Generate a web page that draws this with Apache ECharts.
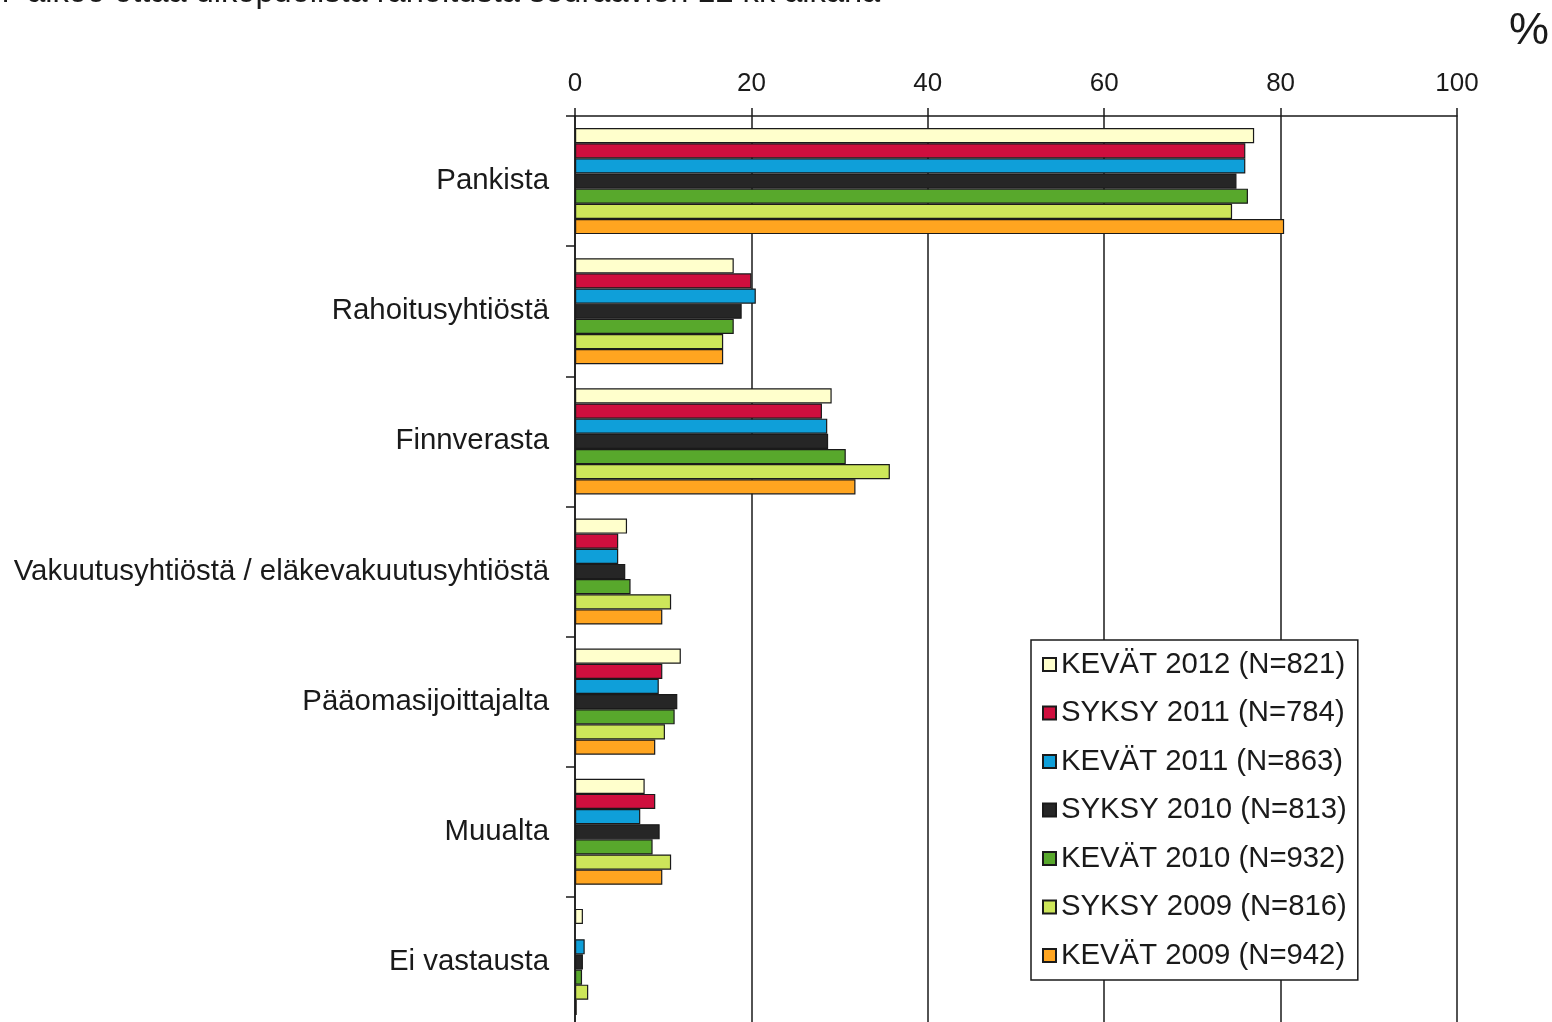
<!DOCTYPE html>
<html>
<head>
<meta charset="utf-8">
<title>Rahoituslähteet</title>
<script src="https://cdn.jsdelivr.net/npm/echarts@6/dist/echarts.min.js"></script>
<style>
  html, body { margin: 0; padding: 0; background: #fff; }
  #chart { width: 1552px; height: 1022px; }
</style>
</head>
<body>
<div id="chart"></div>
<script>
// kategoriat ylhäältä alas
const categories = [
  'Pankista',
  'Rahoitusyhtiöstä',
  'Finnverasta',
  'Vakuutusyhtiöstä / eläkevakuutusyhtiöstä',
  'Pääomasijoittajalta',
  'Muualta',
  'Ei vastausta'
];

const xTicks = [0, 20, 40, 60, 80, 100];

// prosentit, luettu kuvasta
const kevat2012 = [77.0, 18.0, 29.1, 5.9, 12.0, 7.9, 0.9];
const syksy2011 = [76.0, 20.0, 28.0, 4.9, 9.9, 9.1, null];
const kevat2011 = [76.0, 20.5, 28.6, 4.9, 9.5, 7.4, 1.1];
const syksy2010 = [75.0, 18.9, 28.7, 5.7, 11.6, 9.6, 0.9];
const kevat2010 = [76.3, 18.0, 30.7, 6.3, 11.3, 8.8, 0.8];
const syksy2009 = [74.5, 16.8, 35.7, 10.9, 10.2, 10.9, 1.5];
const kevat2009 = [80.4, 16.8, 31.8, 9.9, 9.1, 9.9, 0.2];

const seriesNames = [
  'KEVÄT 2012 (N=821)',
  'SYKSY 2011 (N=784)',
  'KEVÄT 2011 (N=863)',
  'SYKSY 2010 (N=813)',
  'KEVÄT 2010 (N=932)',
  'SYKSY 2009 (N=816)',
  'KEVÄT 2009 (N=942)'
];
const seriesData = [kevat2012, syksy2011, kevat2011, syksy2010, kevat2010, syksy2009, kevat2009];
const colors = ['#FFFFCC', '#CF0F3E', '#0F9FD9', '#262626', '#58A82C', '#CDE65A', '#FFA520'];

const FONT = '"Liberation Sans", Arial, sans-serif';
const INK = '#1a1a1a';

const chart = echarts.init(document.getElementById('chart'), null, { renderer: 'canvas' });

chart.setOption({
  animation: false,
  backgroundColor: '#fff',
  textStyle: { fontFamily: FONT },
  graphic: [
    {
      // otsikko, leikkautuu kuvan yläreunaan
      type: 'text',
      left: -9,
      top: -23,
      style: {
        text: 'n  aikoo ottaa ulkopuolista rahoitusta seuraavien 12 kk aikana',
        font: '32.6px ' + FONT,
        fill: INK
      }
    },
    {
      type: 'text',
      right: 3,
      top: 9,
      style: { text: '%', font: '45px ' + FONT, fill: INK }
    }
  ],
  legend: {
    orient: 'vertical',
    left: 1031,
    top: 640,
    padding: [10, 11, 10, 11],
    itemGap: 19.5,
    itemWidth: 13,
    itemHeight: 13,
    itemTextGap: 7,
    icon: 'rect',
    backgroundColor: '#fff',
    borderColor: INK,
    borderWidth: 1.5,
    textStyle: { fontSize: 29.3, lineHeight: 29, color: INK, fontFamily: FONT },
    data: seriesNames
  },
  grid: {
    left: 575,
    top: 116,
    width: 882,
    height: 911,
    outerBoundsMode: 'none'
  },
  xAxis: {
    type: 'value',
    position: 'top',
    min: 0,
    max: 100,
    interval: 20,
    axisLine: { show: true, lineStyle: { color: INK, width: 1.5 } },
    axisTick: { show: true, length: 8, lineStyle: { color: INK, width: 1.5 } },
    axisLabel: {
      margin: 19,
      fontSize: 26,
      color: INK,
      formatter: v => (xTicks.includes(v) ? String(v) : '')
    },
    splitLine: { show: true, lineStyle: { color: INK, width: 1.5 } }
  },
  yAxis: {
    type: 'category',
    inverse: true,
    data: categories,
    axisLine: { show: true, lineStyle: { color: INK, width: 1.5 } },
    axisTick: { show: true, length: 9, lineStyle: { color: INK, width: 1.5 } },
    axisLabel: { margin: 26, fontSize: 29.4, color: INK, padding: [5, 0, 0, 0] }
  },
  series: seriesNames.map((name, i) => ({
    name: name,
    type: 'bar',
    data: seriesData[i],
    barGap: '0%',
    barCategoryGap: '18.5%',
    itemStyle: { color: colors[i], borderColor: INK, borderWidth: 1.2 }
  }))
});
</script>
</body>
</html>
